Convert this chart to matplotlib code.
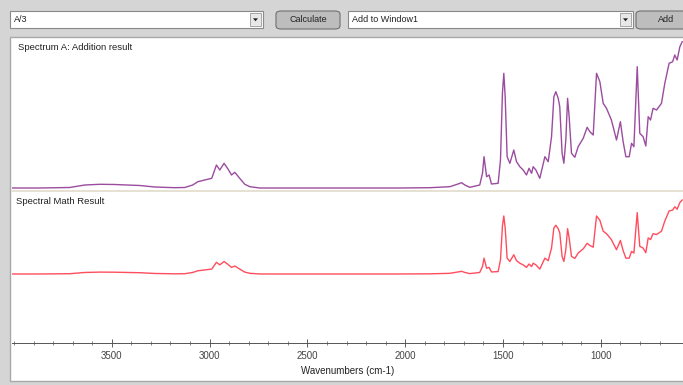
import matplotlib.pyplot as plt
from matplotlib.patches import Rectangle, FancyBboxPatch, Polygon
import numpy as np

plt.rcParams['font.family'] = ['Liberation Sans', 'DejaVu Sans']

# values (absorbance-like units)
wavenumbers = [4010, 3868, 3715, 3638, 3561, 3485, 3423, 3357, 3280, 3178,
               3127, 3086, 3060, 3025, 2989, 2965, 2948, 2926, 2905, 2888,
               2871, 2846, 2820, 2794, 2743, 2539, 2283, 2028, 1874, 1772,
               1730, 1712, 1695, 1670, 1619, 1605, 1597, 1584, 1571, 1559,
               1525, 1513, 1503, 1496, 1489, 1479, 1465, 1445, 1431, 1414,
               1397, 1380, 1367, 1354, 1346, 1332, 1312, 1286, 1269, 1252,
               1240, 1230, 1218, 1210, 1198, 1189, 1179, 1170, 1162, 1150,
               1133, 1116, 1090, 1070, 1056, 1039, 1022, 1005, 988, 971,
               946, 920, 900, 886, 872, 855, 843, 831, 814, 801,
               784, 770, 758, 746, 733, 715, 690, 673, 651, 633,
               622, 610, 596, 584]
spectrum_a = [0.000, 0.000, 0.005, 0.030, 0.037, 0.035, 0.030, 0.025, 0.010, 0.003,
              0.005, 0.030, 0.063, 0.080, 0.097, 0.230, 0.180, 0.247, 0.187, 0.130,
              0.157, 0.097, 0.037, 0.013, 0.000, 0.000, 0.000, 0.000, 0.003, 0.013,
              0.040, 0.053, 0.030, 0.007, 0.030, 0.147, 0.313, 0.113, 0.130, 0.040,
              0.047, 0.280, 0.947, 1.147, 0.913, 0.313, 0.247, 0.380, 0.263, 0.213,
              0.180, 0.130, 0.197, 0.147, 0.213, 0.180, 0.097, 0.313, 0.263, 0.513,
              0.913, 0.963, 0.897, 0.813, 0.347, 0.247, 0.480, 0.897, 0.713, 0.347,
              0.307, 0.413, 0.497, 0.607, 0.563, 0.530, 1.147, 1.063, 0.847, 0.797,
              0.680, 0.480, 0.663, 0.463, 0.313, 0.313, 0.447, 0.413, 1.213, 0.547,
              0.513, 0.420, 0.713, 0.680, 0.797, 0.780, 0.847, 1.047, 1.247, 1.263,
              1.330, 1.280, 1.413, 1.463]
# spectral math expression A/3
result = np.array(spectrum_a) / 3

formula = "A/3"
target = "Add to Window1"
top_title = "Spectrum A: Addition result"
bottom_title = "Spectral Math Result"
x_label = "Wavenumbers (cm-1)"
major_ticks = [3500, 3000, 2500, 2000, 1500, 1000]

W, H = 683, 385
fig = plt.figure(figsize=(6.83, 3.85), dpi=100, facecolor='#d5d5d5')


def frac(x, y, w, h):
    # pixel box (top-left origin) -> figure fraction
    return [x / W, 1 - (y + h) / H, w / W, h / H]


def fig_rect(x, y, w, h, **kw):
    l, b, ww, hh = frac(x, y, w, h)
    fig.patches.append(Rectangle((l, b), ww, hh, transform=fig.transFigure, **kw))


def button(x, y, w, h, label):
    l, b, ww, hh = frac(x, y, w, h)
    fig.patches.append(FancyBboxPatch((l, b), ww, hh, boxstyle='round,pad=0,rounding_size=0.008',
                                      transform=fig.transFigure, facecolor='#bdbdbd',
                                      edgecolor='#6f6f6f', linewidth=0.8))
    fig.text(l + ww / 2, b + hh / 2, label, ha='center', va='center', fontsize=6.5, color='#222222')


def combo(x, y, w, h, label):
    fig_rect(x, y, w, h, facecolor='white', edgecolor='#8a8a8a', linewidth=0.8)
    fig_rect(x + w - 13, y + 2, 11, h - 4, facecolor='#e8e8e8', edgecolor='#9a9a9a', linewidth=0.6)
    cx, cy = x + w - 7.5, y + h / 2
    tri = [(cx - 2.5, cy - 1.2), (cx + 2.5, cy - 1.2), (cx, cy + 1.8)]
    fig.patches.append(Polygon([(px / W, 1 - py / H) for px, py in tri], closed=True,
                               transform=fig.transFigure, facecolor='#222222', edgecolor='none'))
    l, b, ww, hh = frac(x, y, w, h)
    fig.text(l + 4 / W, b + hh / 2, label, ha='left', va='center', fontsize=6.5, color='#222222')


# toolbar
combo(10, 11, 253, 17, formula)
button(276, 11, 64, 18, "Calculate")
combo(348, 11, 285, 17, target)
button(636, 11, 60, 18, "Add")

# white plotting panel, kept behind the axes
fig_rect(10, 37, 680, 344, facecolor='white', edgecolor='#a8a8a8', linewidth=1.0, zorder=-5)

ax1 = fig.add_axes(frac(12, 38, 671, 153))
ax2 = fig.add_axes(frac(12, 191, 671, 152))

for ax in (ax1, ax2):
    ax.set_facecolor('none')
    ax.set_xlim(4010, 580)
    ax.set_yticks([])
    for s in ax.spines.values():
        s.set_visible(False)

ax1.plot(wavenumbers, spectrum_a, color='#9b4c9f', linewidth=1.0)
ax1.set_ylim(-0.03, 1.50)
ax1.set_xticks([])
ax1.spines['bottom'].set_visible(True)
ax1.spines['bottom'].set_color('#e2dccb')
ax1.spines['bottom'].set_linewidth(1.2)
ax1.text(6 / 671, 1 - 10 / 153, top_title, transform=ax1.transAxes, fontsize=6.8,
         color='#222222', va='center', ha='left')

ax2.plot(wavenumbers, result, color='#ff4d5e', linewidth=1.0)
ax2.set_ylim(-0.455, 0.547)
ax2.text(4 / 671, 1 - 10 / 152, bottom_title, transform=ax2.transAxes, fontsize=6.8,
         color='#222222', va='center', ha='left')
ax2.spines['bottom'].set_visible(True)
ax2.spines['bottom'].set_color('#555555')
ax2.spines['bottom'].set_linewidth(0.7)
ax2.set_xticks(major_ticks)
ax2.set_xticklabels([str(t) for t in major_ticks])
ax2.set_xticks(np.arange(700, 4001, 100), minor=True)
ax2.tick_params(axis='x', which='major', direction='inout', length=6, width=0.6,
                colors='#444444', labelsize=7, pad=3)
ax2.tick_params(axis='x', which='minor', direction='inout', length=3, width=0.5, colors='#555555')
ax2.set_xlabel(x_label, fontsize=7, color='#222222', labelpad=3)

fig.savefig('out.png', dpi=100, facecolor=fig.get_facecolor())
